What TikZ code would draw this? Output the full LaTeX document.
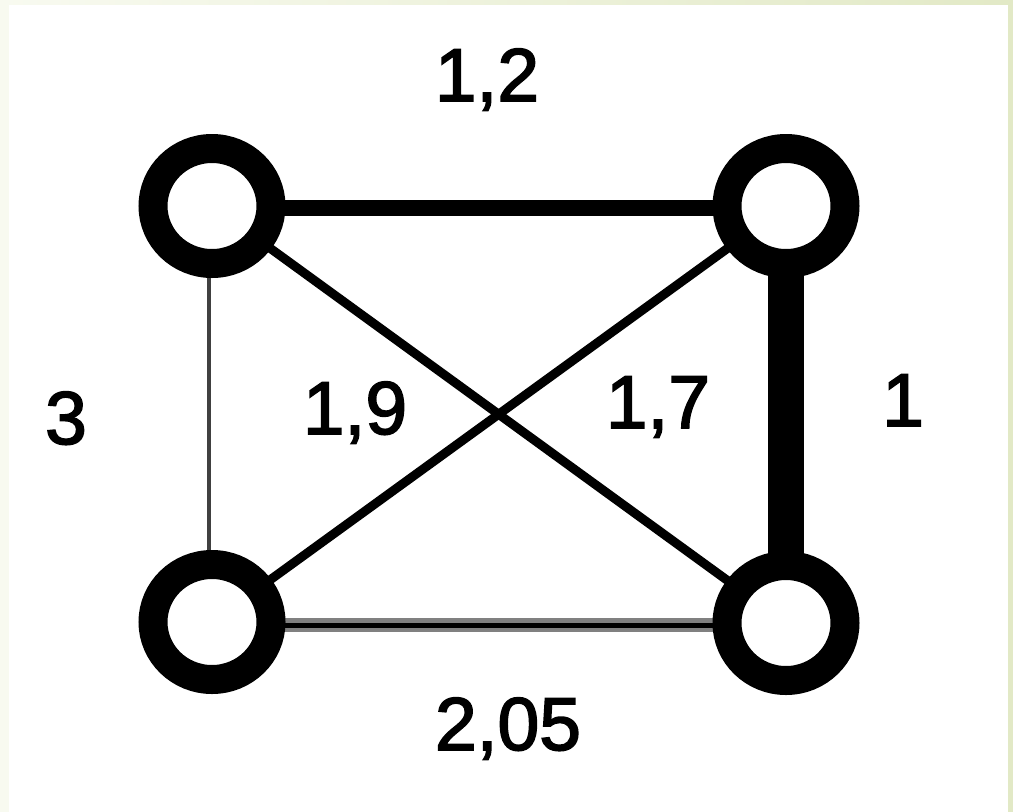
\documentclass[tikz,border=0pt]{standalone}
\usepackage{fontspec}
\setmainfont{Liberation Sans}
\newfontfamily\lblfont{Liberation Sans}[FakeBold=2.2]
\usetikzlibrary{shapes.geometric}
\definecolor{bgleft}{HTML}{F8FAF0}
\definecolor{bgright}{HTML}{E2E9C6}
\pgfdeclarelayer{bglayer}
\pgfdeclarelayer{edgelayer}
\pgfsetlayers{bglayer,edgelayer,main}
\tikzset{
  vertex/.style={ellipse, draw=black, line width=29pt, fill=white,
    minimum width=118pt, minimum height=115pt, inner sep=0pt},
  lbl/.style={anchor=base, inner sep=0pt, font=\lblfont\fontsize{75}{80}\selectfont},
  edgeline/.style={draw=black, line cap=butt}
}
\begin{document}
\begin{tikzpicture}[x=1pt,y=-1pt]
\useasboundingbox (0,0) rectangle (1013,812);
\begin{pgfonlayer}{bglayer}
  \shade[left color=bgleft,right color=bgright] (0,0) rectangle (1013,812);
  \fill[white] (9,5) rectangle (1008,812);
\end{pgfonlayer}

\node[vertex] (tl) at (212,206) {};
\node[vertex] (tr) at (786,206) {};
\node[vertex] (bl) at (212,622) {};
\node[vertex] (br) at (786,623) {};

\begin{pgfonlayer}{edgelayer}
  \draw[edgeline, line width=16pt] ([yshift=-2pt]tl.center) -- ([yshift=-2pt]tr.center);
  \draw[edgeline, line width=36pt] (tr.center) -- (br.center);
  \draw[edgeline, draw=black!75, line width=3.5pt] ([xshift=-3pt]tl.center) -- ([xshift=-3pt]bl.center);
  \draw[edgeline, draw=black!50, line width=14pt] ([yshift=-3pt]bl.center) -- ([yshift=-2pt]br.center);
  \draw[edgeline, line width=5pt] ([yshift=-3pt]bl.center) -- ([yshift=-2pt]br.center);
  \draw[edgeline, line width=9pt] (tl.center) -- (br.center);
  \draw[edgeline, line width=9pt] (tr.center) -- (bl.center);
\end{pgfonlayer}

\node[lbl] (l12) at (487,101) {1,2};
\node[lbl] (l3) at (66,444) {3};
\node[lbl] (l19) at (355,434) {1,9};
\node[lbl] (l17) at (658,428) {1,7};
\node[lbl] (l1) at (903,426) {1};
\node[lbl] (l205) at (508,750) {2,05};
\end{tikzpicture}
\end{document}
